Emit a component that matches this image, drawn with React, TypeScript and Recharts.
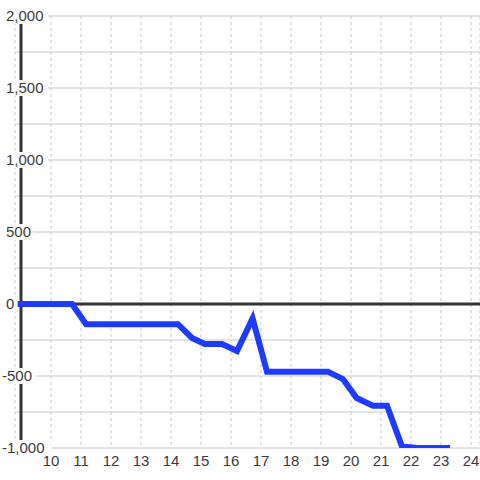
import { CartesianGrid, Line, LineChart, ReferenceLine, XAxis, YAxis } from "recharts"

const xs = [8.87, 10.7, 11.17, 14.23, 14.7, 15.13, 15.7, 16.2, 16.72, 17.2, 19.23, 19.73, 20.19, 20.73, 21.2, 21.7, 22.23, 23.3]
const values = [0, 0, -140, -140, -236, -278, -278, -326, -100, -470, -470, -521, -653, -706, -706, -990, -1000, -1000]

const xTicks = [10, 11, 12, 13, 14, 15, 16, 17, 18, 19, 20, 21, 22, 23, 24]
const yTicks = [-1000, -750, -500, -250, 0, 250, 500, 750, 1000, 1250, 1500, 1750, 2000]

const data = xs.map((x, i) => ({ x, v: values[i] }))

const textColor = "#3a3a3a"

function YTick(props: any) {
  const { y, payload } = props
  const value: number = payload.value
  if (value % 500 !== 0) return null
  const label = value.toLocaleString("en-US")
  const left = value < 0 ? 2 : 6
  const w = label.length * 7.6 + 4
  return (
    <g>
      <rect x={0} y={y - 8} width={left + w} height={16} fill="#ffffff" />
      <text x={left} y={y} dy={5} textAnchor="start" fontSize={15} fill={textColor}>
        {label}
      </text>
    </g>
  )
}

export default function App() {
  return (
    <div style={{ position: "fixed", left: 0, top: 0, width: 480, height: 480, background: "#fff" }}>
      <LineChart
        width={480}
        height={480}
        data={data}
        margin={{ top: 16, right: 0, left: 0, bottom: 0 }}
        style={{ fontFamily: "'Liberation Sans', Arial, sans-serif" }}
      >
        <CartesianGrid horizontal={false} stroke="#c8c8c8" strokeDasharray="3 3" />
        <CartesianGrid vertical={false} stroke="#c8c8c8" />
        <XAxis
          dataKey="x"
          type="number"
          domain={[8.8, 24.3]}
          ticks={xTicks}
          allowDataOverflow
          axisLine={false}
          tickLine={false}
          height={32}
          fontSize={15}
          tick={{ fontSize: 15, fill: textColor }}
          tickMargin={1}
        />
        <ReferenceLine y={0} stroke="#333333" strokeWidth={3} />
        <ReferenceLine x={9} stroke="#333333" strokeWidth={3} />
        <Line
          dataKey="v"
          type="linear"
          stroke="#1f3bff"
          strokeWidth={6}
          dot={false}
          activeDot={false}
          isAnimationActive={false}
        />
        <YAxis
          type="number"
          domain={[-1000, 2000]}
          ticks={yTicks}
          allowDataOverflow
          width={15}
          axisLine={false}
          tickLine={false}
          tick={<YTick />}
        />
      </LineChart>
    </div>
  )
}
